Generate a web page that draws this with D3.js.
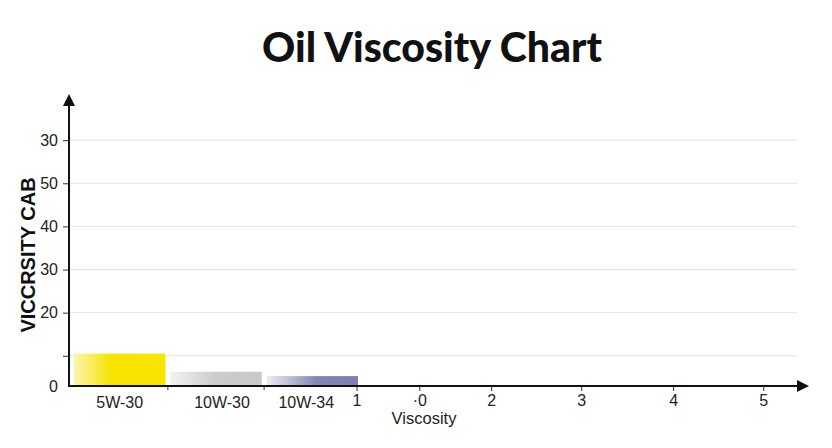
<!DOCTYPE html>
<html><head><meta charset="utf-8">
<script src="https://cdn.jsdelivr.net/npm/d3@7"></script>
<style>body{margin:0;background:#fff;} svg{display:block;}</style>
</head><body>
<svg id="chart" width="832" height="448"></svg>
<script>
// ---- data ----
const categories = ["5W-30", "10W-30", "10W-34"];
const barValues = [7.5, 3.3, 2.3];
const yTickValues = [0, 7, 17, 27, 37, 47, 57];
const yTickLabels = ["0", "", "20", "30", "40", "50", "30"];
const xNumTickValues = [3.16, 3.85, 4.64, 5.63, 6.64, 7.63];
const xNumTickLabels = ["1", "·0", "2", "3", "4", "5"];
const chartTitle = "Oil Viscosity Chart";
const yTitle = "VICCRSITY CAB";
const xTitle = "Viscosity";

(function () {
const svg = d3.select("#chart");
const mL = 69, mB = 386, mT = 97, mR = 806;
const font = "'Liberation Sans', Arial, sans-serif";

const y = d3.scaleLinear().domain([0, 67]).range([mB, mT]);
const xNum = d3.scaleLinear().domain([0, 8.1]).range([mL, mR]);
const xBand = d3.scaleBand().domain(categories).range([74, 358]).paddingInner(0.05).paddingOuter(0);

// gradients
const defs = svg.append("defs");
const grads = [
  {id: "g0", stops: [["0%", "#fbf5b0"], ["40%", "#f6e300"], ["100%", "#f7e500"]]},
  {id: "g1", stops: [["0%", "#f3f3f3"], ["50%", "#cbcbcb"], ["100%", "#c9c9c9"]]},
  {id: "g2", stops: [["0%", "#ececf4"], ["55%", "#8585b5"], ["100%", "#7f7fae"]]}
];
grads.forEach(g => {
  const lg = defs.append("linearGradient").attr("id", g.id).attr("x1", "0").attr("x2", "1").attr("y1", "0").attr("y2", "0");
  g.stops.forEach(s => lg.append("stop").attr("offset", s[0]).attr("stop-color", s[1]));
});
defs.append("marker").attr("id", "arrow").attr("viewBox", "0 0 10 10").attr("refX", 5).attr("refY", 5)
  .attr("markerWidth", 6).attr("markerHeight", 6).attr("orient", "auto-start-reverse")
  .append("path").attr("d", "M0,0 L10,5 L0,10 z").attr("fill", "#111");

// title
svg.append("text").attr("x", 432).attr("y", 62).attr("text-anchor", "middle")
  .attr("font-family", "Lato, 'Open Sans', sans-serif").attr("font-weight", 900).attr("font-size", 41)
  .attr("fill", "#111").text(chartTitle);

// grid lines
svg.append("g").selectAll("line").data(yTickValues.slice(1)).join("line")
  .attr("x1", mL).attr("x2", 797).attr("y1", d => y(d)).attr("y2", d => y(d))
  .attr("stroke", "#e3e3e3").attr("stroke-width", 1);

// bars
svg.append("g").selectAll("rect").data(categories).join("rect")
  .attr("x", d => xBand(d)).attr("width", xBand.bandwidth())
  .attr("y", (d, i) => y(barValues[i])).attr("height", (d, i) => mB - y(barValues[i]))
  .attr("fill", (d, i) => `url(#g${i})`);

// y axis
const yAxis = d3.axisLeft(y).tickValues(yTickValues).tickFormat((d, i) => yTickLabels[i]).tickSize(6).tickPadding(5);
const gy = svg.append("g").attr("transform", `translate(${mL},0)`).call(yAxis);
gy.select(".domain").remove();
gy.selectAll("text").attr("font-family", font).attr("font-size", 16).attr("fill", "#222");
gy.selectAll(".tick line").attr("stroke", "#333");
gy.selectAll(".tick").filter(d => d === 0).select("line").remove();

// x axis: category labels (slightly off-centre as in the original)
const labelShift = i => (i - 1) * -0 + (i === 0 ? 0 : i === 1 ? 6 : -6);
const gx = svg.append("g").attr("transform", `translate(0,${mB})`);
gx.selectAll("text.cat").data(categories).join("text").attr("class", "cat")
  .attr("x", (d, i) => xBand(d) + xBand.bandwidth() / 2 + labelShift(i)).attr("y", 22)
  .attr("text-anchor", "middle").attr("font-family", font)
  .attr("font-size", 16).attr("fill", "#222").text(d => d);
// separator ticks between categories
gx.selectAll("line.sep").data(categories.slice(1)).join("line").attr("class", "sep")
  .attr("x1", d => xBand(d) - xBand.step() * xBand.paddingInner() / 2)
  .attr("x2", d => xBand(d) - xBand.step() * xBand.paddingInner() / 2)
  .attr("y1", 0).attr("y2", 4).attr("stroke", "#333");
// numeric ticks
const xAxis = d3.axisBottom(xNum).tickValues(xNumTickValues).tickFormat((d, i) => xNumTickLabels[i]).tickSize(5).tickPadding(4);
const gxn = svg.append("g").attr("transform", `translate(0,${mB})`).call(xAxis);
gxn.select(".domain").remove();
gxn.selectAll("text").attr("font-family", font).attr("font-size", 16).attr("fill", "#222");
gxn.selectAll(".tick line").attr("stroke", "#333");

// axis lines with arrows
svg.append("line").attr("x1", mL).attr("y1", mB).attr("x2", mL).attr("y2", mT + 3)
  .attr("stroke", "#111").attr("stroke-width", 2).attr("marker-end", "url(#arrow)");
svg.append("line").attr("x1", mL - 1).attr("y1", mB).attr("x2", mR - 3).attr("y2", mB)
  .attr("stroke", "#111").attr("stroke-width", 2).attr("marker-end", "url(#arrow)");

// axis titles
svg.append("text").attr("transform", "translate(35,255) rotate(-90)").attr("text-anchor", "middle")
  .attr("font-family", font).attr("font-weight", "bold").attr("font-size", 20)
  .attr("fill", "#111").text(yTitle);
svg.append("text").attr("x", 424).attr("y", 424).attr("text-anchor", "middle")
  .attr("font-family", font).attr("font-size", 16.5)
  .attr("fill", "#222").text(xTitle);
})();
</script>
</body></html>
